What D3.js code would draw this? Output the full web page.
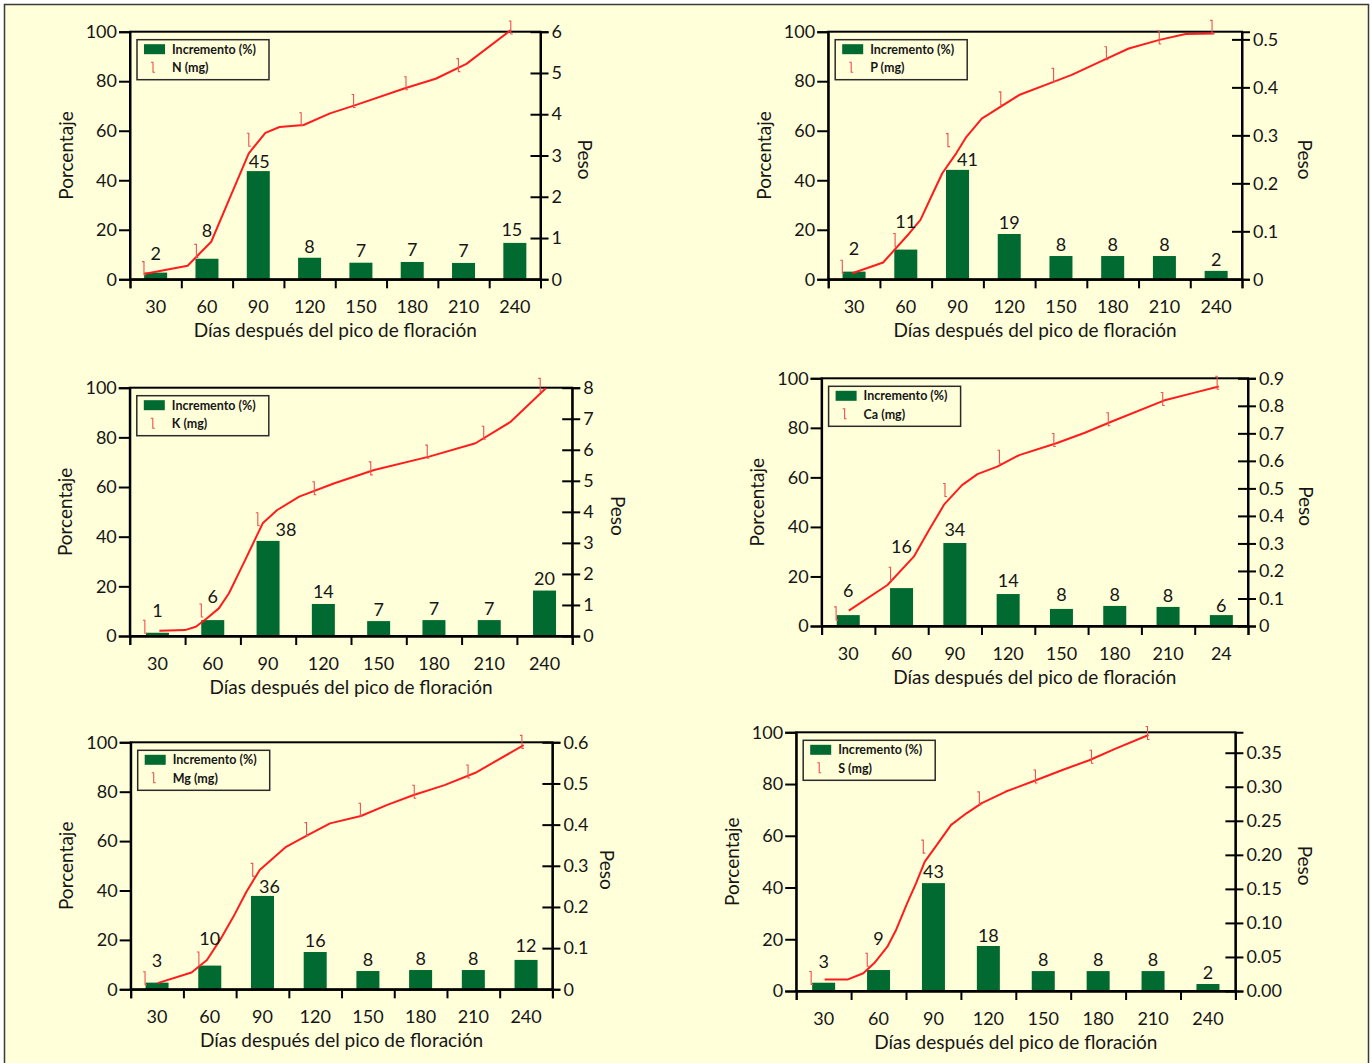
<!DOCTYPE html>
<html>
<head>
<meta charset="utf-8">
<script src="https://cdn.jsdelivr.net/npm/d3@7"></script>
<style>
  body { margin: 0; background: #fff; }
  svg text { font-family: Lato, "Liberation Sans", sans-serif; fill: #161616; }
</style>
</head>
<body>
<svg id="chart" width="1372" height="1063"></svg>
<script>
// x categories (days after peak flowering)
const days = [30, 60, 90, 120, 150, 180, 210, 240];
const dayLabels = ['30', '60', '90', '120', '150', '180', '210', '240'];
const dayLabelsCa = ['30', '60', '90', '120', '150', '180', '210', '24'];
const pctTicks = [0, 20, 40, 60, 80, 100];

// bar heights (Incremento %) as drawn, and the printed labels
const barsN = [2.7, 8.3, 43.7, 8.7, 6.7, 7.0, 6.6, 14.7];
const lblN = [2, 8, 45, 8, 7, 7, 7, 15];
const barsP = [3.1, 12.0, 44.2, 18.3, 9.4, 9.4, 9.4, 3.4];
const lblP = [2, 11, 41, 19, 8, 8, 8, 2];
const barsK = [1.3, 6.4, 38.3, 12.9, 6.0, 6.4, 6.4, 18.3];
const lblK = [1, 6, 38, 14, 7, 7, 7, 20];
const barsCa = [4.4, 15.3, 33.5, 12.9, 6.9, 8.1, 7.7, 4.4];
const lblCa = [6, 16, 34, 14, 8, 8, 8, 6];
const barsMg = [2.7, 9.6, 37.8, 15.1, 7.4, 7.8, 7.8, 11.9];
const lblMg = [3, 10, 36, 16, 8, 8, 8, 12];
const barsS = [3.2, 8.1, 41.7, 17.4, 7.7, 7.7, 7.7, 2.7];
const lblS = [3, 9, 43, 18, 8, 8, 8, 2];

// accumulated weight (mg) markers at each day
const markN = [0.27, 0.69, 3.38, 3.88, 4.32, 4.75, 5.19, 6.10];
const markP = [0.026, 0.082, 0.29, 0.377, 0.426, 0.471, 0.504, 0.526];
const markK = [0.3, 0.82, 3.76, 4.76, 5.4, 5.94, 6.55, 8.09];
const markCa = [0.046, 0.19, 0.494, 0.615, 0.676, 0.751, 0.825, 0.884];
const markMg = [0.027, 0.075, 0.29, 0.389, 0.436, 0.48, 0.529, 0.601];
const markS = [0.019, 0.046, 0.212, 0.283, 0.315, 0.344, 0.379];

// traced curves [day, peso]
const curveN = [[30, 0.13], [55, 0.33], [62, 0.63], [68.5, 0.91], [78.6, 1.92], [90, 3.05], [99.5, 3.55],
  [107.6, 3.69], [121.4, 3.74], [136.5, 4.02], [151.1, 4.22], [179.4, 4.63], [197, 4.86], [214.6, 5.22], [240, 6.04]];
const curveP = [[35.7, 0.0125], [53.2, 0.035], [68.1, 0.096], [74.4, 0.124], [80.5, 0.172], [86.8, 0.221],
  [94.7, 0.2625], [100.5, 0.297], [109.2, 0.335], [130.4, 0.384], [150.3, 0.412], [160.3, 0.426], [180.2, 0.46],
  [192.7, 0.481], [210.1, 0.499], [225, 0.511], [241.3, 0.5125]];
const curveK = [[37.7, 0.17], [51.3, 0.19], [57.1, 0.30], [63, 0.57], [69.3, 0.89], [74.6, 1.37], [82.8, 2.39],
  [92.6, 3.63], [100.3, 4.06], [112, 4.49], [130.7, 4.92], [151.8, 5.35], [181, 5.78], [205.6, 6.21], [224.3, 6.9], [243, 7.98]];
const curveCa = [[37, 0.056], [58.3, 0.149], [72.8, 0.252], [81.2, 0.349], [89.7, 0.443], [99.4, 0.512],
  [107.9, 0.552], [118.8, 0.579], [130.9, 0.621], [151.4, 0.664], [167.1, 0.702], [181.6, 0.742], [210.6, 0.819],
  [227.6, 0.848], [240.9, 0.87]];
const curveMg = [[37, 0.015], [55.9, 0.041], [64.5, 0.071], [71.8, 0.12], [79.2, 0.176], [86.5, 0.237], [93.9, 0.29],
  [108.6, 0.346], [120.9, 0.375], [133.1, 0.403], [150.3, 0.421], [165, 0.448], [179.7, 0.472], [196.9, 0.496],
  [214.1, 0.526], [241, 0.593]];
const curveS = [[37.2, 0.017], [49.7, 0.017], [57.9, 0.026], [63.8, 0.041], [70.8, 0.065], [75.5, 0.09], [81.4, 0.129],
  [86.1, 0.158], [90.8, 0.19], [96.6, 0.212], [104.9, 0.244], [113.1, 0.261], [121.3, 0.276], [134.2, 0.293],
  [150.6, 0.31], [164.8, 0.325], [178.8, 0.339], [192.9, 0.356], [210.5, 0.376]];

// right axis (Peso) ticks
const pesoTicksN = [0, 1, 2, 3, 4, 5, 6];
const pesoTicksP = [0, 0.1, 0.2, 0.3, 0.4, 0.5];
const pesoTicksK = [0, 1, 2, 3, 4, 5, 6, 7, 8];
const pesoTicksCa = [0, 0.1, 0.2, 0.3, 0.4, 0.5, 0.6, 0.7, 0.8, 0.9];
const pesoTicksMg = [0, 0.1, 0.2, 0.3, 0.4, 0.5, 0.6];
const pesoTicksS = [0, 0.05, 0.1, 0.15, 0.2, 0.25, 0.3, 0.35];

const fmtInt = d => String(d);
const fmt1 = d => d === 0 ? '0' : d.toFixed(1);
const fmt2 = d => d.toFixed(2);

const GREEN = '#006a30';
const RED = '#ff1c1c';
const MARK = '#f05050';
const BG = '#ffffda';

// plot boxes and label nudges (px) as in the original figure
const panels = [
  { el: 'N', left: 130, right: 540.5, top: 31.7, bottom: 279.3, bars: barsN, labels: lblN, marks: markN, curve: curveN,
    pesoMax: 6, pesoTicks: pesoTicksN, fmt: fmtInt, pesoOff: 45, xl: dayLabels,
    lift: [8, 17, -1.5, 0, 0.5, 0.5, 0.5, 2], shift: [0, 0, 1, 0, 0, 0, 0, -3] },
  { el: 'P', left: 828.2, right: 1242, top: 31.7, bottom: 279.3, bars: barsP, labels: lblP, marks: markP, curve: curveP,
    pesoMax: 0.516, pesoTicks: pesoTicksP, fmt: fmt1, pesoOff: 63, xl: dayLabels,
    lift: [12, 16.5, -1.5, 0, 0, 0, 0, 0], shift: [0, 0, 10, 0, 0, 0, 0, 0] },
  { el: 'K', left: 129.8, right: 572.2, top: 387.7, bottom: 636, bars: barsK, labels: lblK, marks: markK, curve: curveK,
    pesoMax: 8, pesoTicks: pesoTicksK, fmt: fmtInt, pesoOff: 46, xl: dayLabels,
    lift: [11, 12, 0, 1, 0, 0, 0, 1], shift: [0, 0, 18, 0, 0, 0, 0, 0] },
  { el: 'Ca', left: 821.6, right: 1248, top: 378.3, bottom: 626, bars: barsCa, labels: lblCa, marks: markCa, curve: curveCa,
    pesoMax: 0.9, pesoTicks: pesoTicksCa, fmt: fmt1, pesoOff: 58, xl: dayLabelsCa,
    lift: [13, 30, 2, 2, 3, 0, 0, -1.5], shift: [0, 0, 0, 0, 0, 0, 0, 0] },
  { el: 'Mg', left: 130.7, right: 552.4, top: 742.3, bottom: 989.3, bars: barsMg, labels: lblMg, marks: markMg, curve: curveMg,
    pesoMax: 0.6, pesoTicks: pesoTicksMg, fmt: fmt1, pesoOff: 55, xl: dayLabels,
    lift: [11, 16, -2, 0, 0, 0, 0, 3], shift: [0, 0, 7, 0, 0, 0, 0, 0] },
  { el: 'S', left: 796.2, right: 1235.4, top: 732.3, bottom: 991, bars: barsS, labels: lblS, marks: markS, curve: curveS,
    pesoMax: 0.38, pesoTicks: pesoTicksS, fmt: fmt2, pesoOff: 70, xl: dayLabels,
    lift: [9.5, 20, 0, -1, 0, 0, 0, 0], shift: [0, 0, 0, 0, 0, 0, 0, 0] }
];

const svg = d3.select('#chart');

svg.append('rect')
  .attr('x', 4.5).attr('y', 4.5)
  .attr('width', 1364).attr('height', 1080)
  .attr('fill', BG)
  .attr('stroke', '#3a3a3a')
  .attr('stroke-width', 1.5);

function markerPath(cx, cy, h) {
  return `M${cx - 2},${cy - h}H${cx}V${cy + h}H${cx + 2}`;
}

function drawPanel(p) {
  const g = svg.append('g').attr('class', 'panel-' + p.el);
  const w = p.right - p.left;
  const step = w / days.length;
  const pad = 1 - 23 / step;

  const x = d3.scaleBand().domain(days).range([p.left, p.right])
    .paddingInner(pad).paddingOuter(pad / 2);
  const xLine = d3.scaleLinear().domain([22, 257]).range([p.left, p.right]);
  const yPct = d3.scaleLinear().domain([0, 100]).range([p.bottom, p.top]);
  const yPeso = d3.scaleLinear().domain([0, p.pesoMax]).range([p.bottom, p.top]);

  // bars
  g.selectAll('rect.bar').data(p.bars).join('rect')
    .attr('class', 'bar')
    .attr('x', (d, i) => x(days[i]))
    .attr('width', x.bandwidth())
    .attr('y', d => yPct(d))
    .attr('height', d => yPct(0) - yPct(d))
    .attr('fill', GREEN);

  // frame
  g.append('rect')
    .attr('x', p.left).attr('y', p.top)
    .attr('width', w).attr('height', p.bottom - p.top)
    .attr('fill', 'none').attr('stroke', '#000').attr('stroke-width', 2);

  // left axis
  const ax = g.append('g').attr('transform', `translate(${p.left},0)`)
    .call(d3.axisLeft(yPct).tickValues(pctTicks).tickSize(11).tickPadding(2));
  // right axis, ticks crossing the line
  const ar = g.append('g').attr('transform', `translate(${p.right},0)`)
    .call(d3.axisRight(yPeso).tickValues(p.pesoTicks).tickFormat(p.fmt).tickSize(8).tickPadding(3));
  ar.selectAll('.tick line').attr('x1', -10);
  // bottom: labels at band centres, ticks at band edges
  const ab = g.append('g').attr('transform', `translate(0,${p.bottom})`)
    .call(d3.axisBottom(x).tickSize(0).tickPadding(21).tickFormat((d, i) => p.xl[i]));
  const edges = d3.scaleLinear().domain([0, days.length]).range([p.left, p.right]);
  const ae = g.append('g').attr('transform', `translate(0,${p.bottom})`)
    .call(d3.axisBottom(edges).tickValues(d3.range(days.length + 1)).tickSize(9).tickFormat(''));

  [ax, ar, ab, ae].forEach(a => {
    a.select('.domain').attr('stroke', '#000').attr('stroke-width', 2);
    a.selectAll('.tick line').attr('stroke', '#000').attr('stroke-width', 2);
    a.selectAll('text').attr('font-size', 18).attr('fill', '#161616')
      .style('font-family', 'Lato, "Liberation Sans", sans-serif');
  });

  // weight curve
  const line = d3.line().x(d => xLine(d[0])).y(d => yPeso(d[1]));
  g.append('path').datum(p.curve)
    .attr('d', line)
    .attr('fill', 'none')
    .attr('stroke', RED)
    .attr('stroke-width', 2)
    .attr('stroke-linejoin', 'round');

  g.selectAll('path.mark').data(p.marks).join('path')
    .attr('class', 'mark')
    .attr('d', (d, i) => markerPath(xLine(days[i]), yPeso(d), 6.5))
    .attr('fill', 'none')
    .attr('stroke', MARK)
    .attr('stroke-width', 1.1);

  // bar value labels
  g.selectAll('text.val').data(p.labels).join('text')
    .attr('class', 'val')
    .attr('x', (d, i) => x(days[i]) + x.bandwidth() / 2 + p.shift[i])
    .attr('y', (d, i) => yPct(p.bars[i]) - 5 - p.lift[i])
    .attr('text-anchor', 'middle')
    .attr('font-size', 18)
    .text(d => d);

  // titles
  const midY = (p.top + p.bottom) / 2;
  g.append('text')
    .attr('transform', `translate(${p.left - 65},${midY}) rotate(-90)`)
    .attr('text-anchor', 'middle').attr('dominant-baseline', 'central')
    .attr('font-size', 19).text('Porcentaje');
  g.append('text')
    .attr('transform', `translate(${p.right + p.pesoOff},${midY + 4}) rotate(90)`)
    .attr('text-anchor', 'middle').attr('dominant-baseline', 'central')
    .attr('font-size', 19).text('Peso');
  g.append('text')
    .attr('x', (p.left + p.right) / 2).attr('y', p.bottom + 50)
    .attr('text-anchor', 'middle').attr('dominant-baseline', 'central')
    .attr('font-size', 19).text('Días después del pico de floración');

  // legend
  const lg = g.append('g').attr('transform', `translate(${p.left + 7},${p.top + 8})`);
  lg.append('rect').attr('width', 132).attr('height', 40)
    .attr('fill', BG).attr('stroke', '#2a2a2a').attr('stroke-width', 1.5);
  lg.append('rect').attr('x', 7).attr('y', 4.5).attr('width', 21).attr('height', 10).attr('fill', GREEN);
  lg.append('text').attr('x', 35).attr('y', 9.5).attr('dominant-baseline', 'central')
    .attr('font-size', 12.5).attr('font-weight', 'bold').text('Incremento (%)');
  lg.append('path').attr('d', markerPath(16, 27.5, 5))
    .attr('fill', 'none').attr('stroke', MARK).attr('stroke-width', 1.1);
  lg.append('text').attr('x', 35).attr('y', 28).attr('dominant-baseline', 'central')
    .attr('font-size', 12.5).attr('font-weight', 'bold').text(p.el + ' (mg)');
}

panels.forEach(drawPanel);
</script>
</body>
</html>
